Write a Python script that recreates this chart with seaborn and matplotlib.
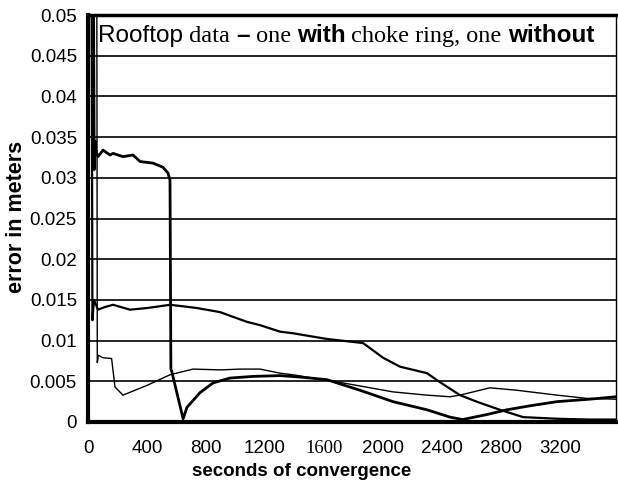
import matplotlib
matplotlib.use("Agg")
import matplotlib.pyplot as plt
from matplotlib.ticker import MultipleLocator
import seaborn as sns

# readings taken off the scanned chart (seconds, error in metres)
t_thick = [38, 42, 48, 55, 68, 102, 149, 170, 237, 305, 353, 441, 508, 542, 556, 562, 568,
           645, 671, 759, 848, 963, 1119, 1302, 1450, 1620, 1844, 2068, 2298, 2454, 2540,
           2700, 2840, 3000, 3180, 3400, 3580]
err_thick = [0.05, 0.031, 0.0345, 0.0332, 0.0326, 0.0334, 0.0328, 0.0330, 0.0326, 0.0328,
             0.0320, 0.0318, 0.0313, 0.0306, 0.0297, 0.0065, 0.0062, 0.0004, 0.0018, 0.0036,
             0.0048, 0.0054, 0.0056, 0.0057, 0.0055, 0.0052, 0.0039, 0.0025, 0.0015, 0.0006,
             0.0003, 0.0009, 0.0015, 0.0020, 0.0025, 0.0028, 0.0031]

t_mid = [25, 30, 40, 68, 110, 170, 285, 400, 480, 556, 650, 739, 895, 1078, 1166, 1302,
         1390, 1620, 1865, 2000, 2115, 2298, 2386, 2522, 2650, 2793, 2950, 3180, 3400, 3580]
err_mid = [0.05, 0.0125, 0.0150, 0.0138, 0.0141, 0.0144, 0.0138, 0.0140, 0.0142, 0.0144,
           0.0142, 0.0140, 0.0135, 0.0123, 0.0119, 0.0111, 0.0109, 0.0102, 0.0097, 0.0079,
           0.0068, 0.0060, 0.0049, 0.0033, 0.0024, 0.0015, 0.0006, 0.0004, 0.0003, 0.0003]

t_thin = [60, 63, 70, 100, 160, 183, 237, 400, 556, 712, 900, 1030, 1166, 1302, 1390, 1729,
          2068, 2298, 2454, 2522, 2725, 2908, 3180, 3383, 3580]
err_thin = [0.05, 0.0073, 0.0082, 0.0079, 0.0078, 0.0043, 0.0033, 0.0045, 0.0058, 0.0065,
            0.0064, 0.0065, 0.0065, 0.0060, 0.0058, 0.0048, 0.0037, 0.0033, 0.0031, 0.0033,
            0.0042, 0.0039, 0.0033, 0.0029, 0.0028]

y_ticks = [0, 0.005, 0.01, 0.015, 0.02, 0.025, 0.03, 0.035, 0.04, 0.045, 0.05]
y_labels = ["0", "0.005", "0.01", "0.015", "0.02", "0.025", "0.03", "0.035", "0.04", "0.045", "0.05"]
x_ticks = [0, 400, 800, 1200, 1600, 2000, 2400, 2800, 3200]
x_labels = ["0", "400", "800", "1200", "1600", "2000", "2400", "2800", "3200"]

# title is set in mixed fonts in the original
title_parts = [("Rooftop", "sans", "normal"), (" data ", "serif", "normal"),
               ("\u2013", "sans", "bold"), (" one ", "serif", "normal"),
               ("with", "sans", "bold"), (" choke ring, one ", "serif", "normal"),
               ("without", "sans", "bold")]

sns.set_style("white")
plt.rcParams["font.family"] = ["Liberation Sans", "DejaVu Sans"]
plt.rcParams["text.color"] = "black"
plt.rcParams["axes.labelcolor"] = "black"
plt.rcParams["xtick.color"] = "black"
plt.rcParams["ytick.color"] = "black"
SERIF = ["Liberation Serif", "DejaVu Serif"]

fig = plt.figure(figsize=(6.18, 4.94), dpi=100)
ax = fig.add_axes([88 / 618, 1 - 422 / 494, 528 / 618, 407 / 494])

for t, v, lw in [(t_thick, err_thick, 2.0), (t_mid, err_mid, 1.6), (t_thin, err_thin, 1.0)]:
    sns.lineplot(x=t, y=v, ax=ax, color="black", linewidth=lw, estimator=None, sort=False)

ax.set_xlim(0, 3580)
ax.set_ylim(0, 0.05)
ax.set_yticks(y_ticks)
ax.set_yticklabels(y_labels, fontsize=13.5)
ax.set_xticks(x_ticks)
ax.set_xticklabels(x_labels, fontsize=13.5)
for lab in ax.get_xticklabels():
    if lab.get_text() == "1600":
        lab.set_fontfamily(SERIF)
ax.xaxis.set_minor_locator(MultipleLocator(200))
ax.tick_params(axis="x", which="major", length=0, pad=13)
ax.tick_params(axis="x", which="minor", length=5, direction="inout", width=1)
ax.tick_params(axis="y", which="major", length=4, direction="out", width=1, pad=4)

ax.yaxis.grid(True, color="black", linewidth=1.2)
ax.xaxis.grid(False)

for side, lw in [("left", 3.0), ("bottom", 3.0), ("top", 2.5), ("right", 1.0)]:
    ax.spines[side].set_visible(True)
    ax.spines[side].set_color("black")
    ax.spines[side].set_linewidth(lw)

ax.set_ylabel("error in meters", fontsize=15.5, fontweight="bold")
ax.yaxis.set_label_coords(-0.115, 0.505)
ax.set_xlabel("seconds of convergence", fontsize=13.5, fontweight="bold")
ax.xaxis.set_label_coords(0.405, -0.1)

fig.canvas.draw()
renderer = fig.canvas.get_renderer()
x_px = 98
for text, fam, weight in title_parts:
    family = SERIF if fam == "serif" else ["Liberation Sans", "DejaVu Sans"]
    txt = fig.text(x_px / 618, 1 - 42 / 494, text, fontsize=17.5, fontweight=weight,
                   family=family, va="baseline", ha="left")
    x_px = txt.get_window_extent(renderer).x1

fig.savefig("out.png", dpi=100)
